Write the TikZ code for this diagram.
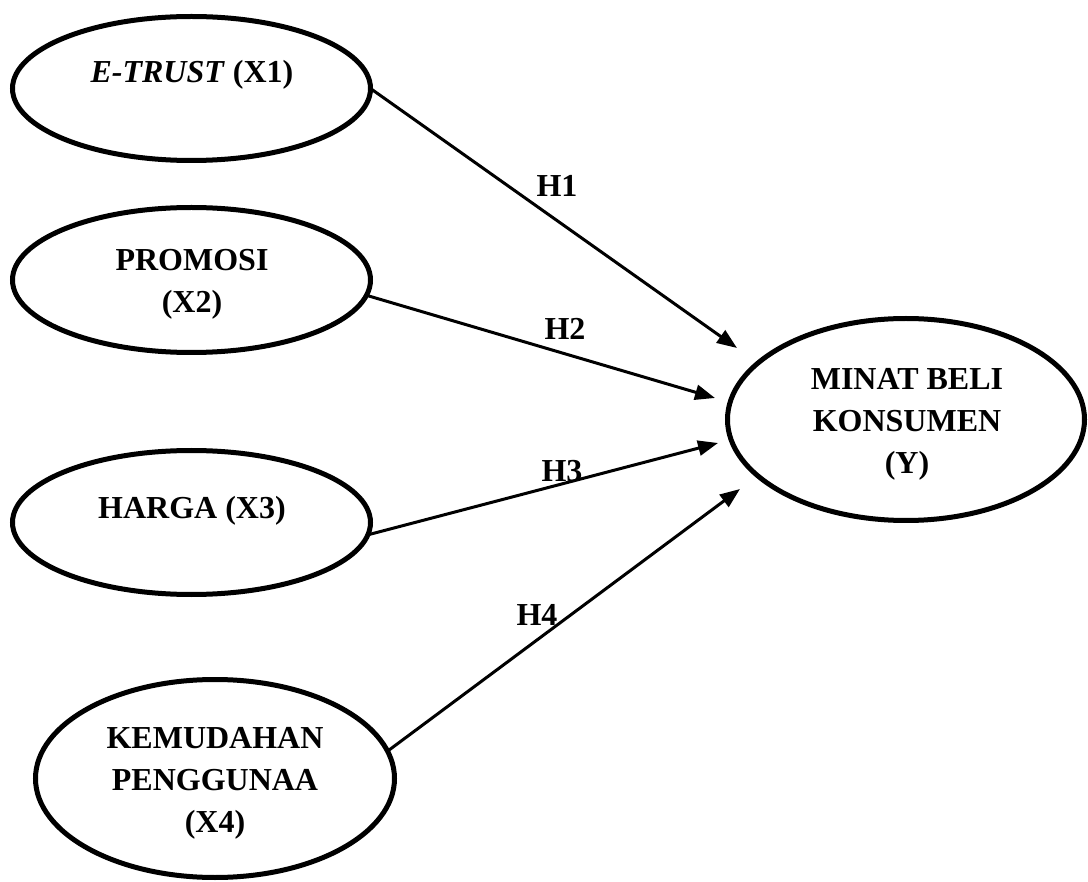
\documentclass[tikz,border=0pt]{standalone}
\usepackage{fontspec}
\setmainfont{Liberation Serif}
\usetikzlibrary{shapes.geometric,arrows.meta}
\begin{document}
\begin{tikzpicture}[x=1pt,y=-1pt,
  var/.style={ellipse, draw, line width=5pt, inner sep=0pt, outer sep=0pt},
  lbl/.style={font=\fontsize{32}{42}\selectfont\bfseries, align=center, inner sep=0pt},
  hyp/.style={font=\fontsize{32}{42}\selectfont\bfseries, inner sep=0pt, anchor=base},
  link/.style={line width=3pt, -{Triangle[length=20pt,width=15pt]}}]
\useasboundingbox (0,0) rectangle (1088,882);

% ellipses
\node[var, minimum width=358pt, minimum height=144pt] (etrust) at (191.5,88.5) {};
\node[var, minimum width=358pt, minimum height=145pt] (promosi) at (191.5,280) {};
\node[var, minimum width=358pt, minimum height=144pt] (harga) at (191.5,522.5) {};
\node[var, minimum width=359pt, minimum height=198pt] (kemudahan) at (215,778.5) {};
\node[var, minimum width=357pt, minimum height=202pt] (minat) at (906,419.5) {};

% texts
\node[lbl, anchor=base] (etrustt) at (192,83) {\textit{E-TRUST} (X1)};
\node[lbl] (promosit) at (192,284) {PROMOSI\\(X2)};
\node[lbl, anchor=base] (hargat) at (192,519) {HARGA (X3)};
\node[lbl] (kemudahant) at (215,783) {KEMUDAHAN\\PENGGUNAA\\(X4)};
\node[lbl] (minatt) at (907,424.5) {MINAT BELI\\KONSUMEN\\(Y)};

% arrow ends
\coordinate (t1) at (737,348);
\coordinate (t2) at (715,398);
\coordinate (t3) at (718,443);
\coordinate (t4) at (740,489);

% hypothesis labels
\node[hyp] (h1) at (557,197) {H1};
\node[hyp] (h2) at (565,340) {H2};
\node[hyp] (h3) at (562,482) {H3};
\node[hyp] (h4) at (537,625) {H4};

% connectors
\draw[link] (etrust.east) -- (t1);
\draw[link] (promosi.-5) -- (t2);
\draw[link] (harga.-4) -- (t3);
\draw[link] (kemudahan.9) -- (t4);
\end{tikzpicture}
\end{document}
